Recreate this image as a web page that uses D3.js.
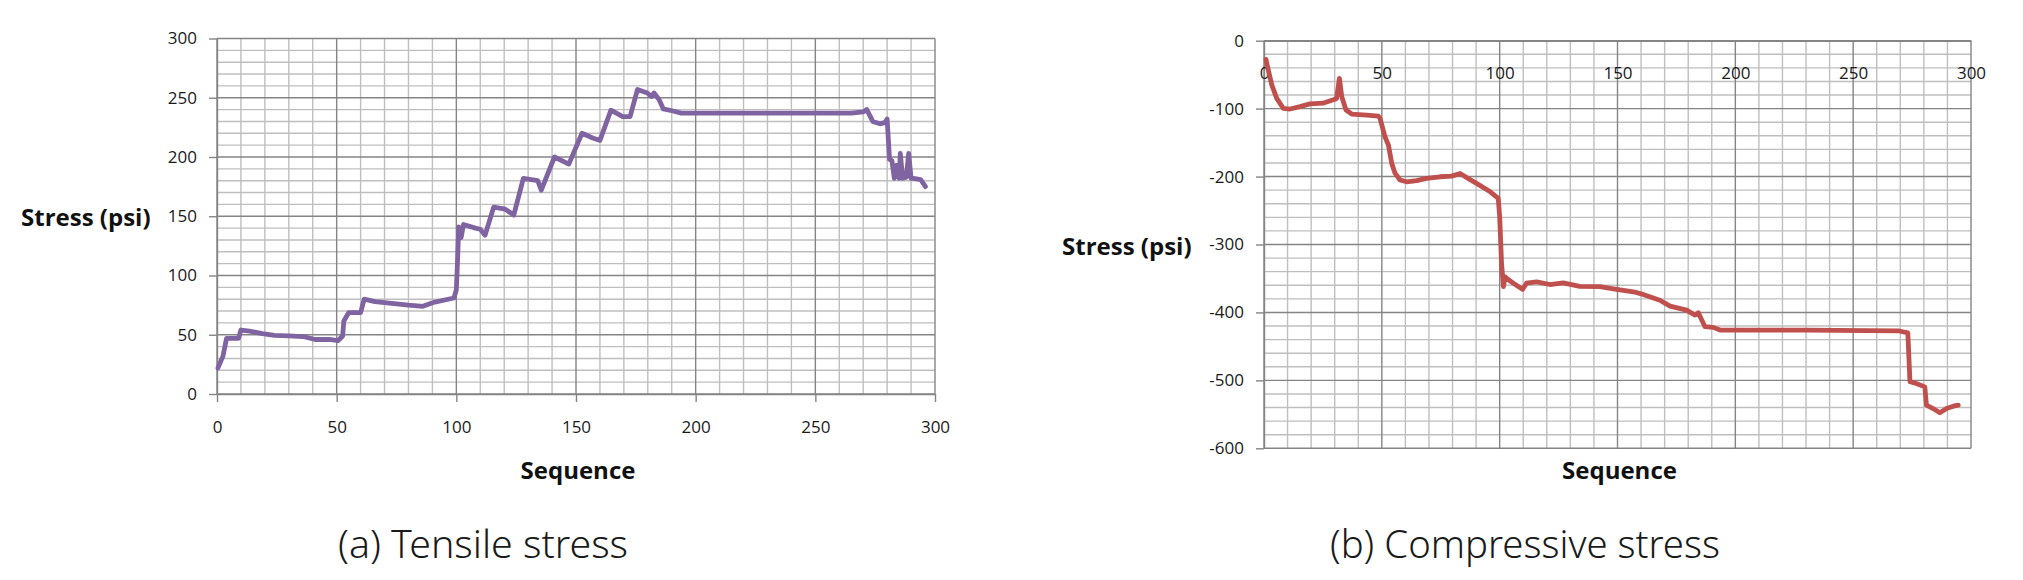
<!DOCTYPE html>
<html lang="en">
<head>
  <meta charset="UTF-8">
  <title>Tensile / compressive stress</title>
  <style>
    html, body { margin: 0; padding: 0; background: #fff; }
    svg { display: block; }
  </style>
</head>
<body>
  <svg id="svg" width="2023" height="580"></svg>

  <script src="https://d3js.org/d3.v7.min.js"></script>
  <script>
    // (a) tensile stress
    var tensileSeq = [0.4, 2.5, 4, 9, 10, 13.6, 19, 24, 30, 36, 41, 47, 50.5, 52.5, 53, 55, 60, 61.5, 66, 73,
      80, 86, 91, 99, 100, 100.5, 101, 102, 103, 108, 110, 112, 115.6, 120.4, 124, 128, 134, 135.5, 141, 147,
      152.5, 157, 160, 164.6, 169.5, 172.6, 175.7, 179.8, 181.5, 182.6, 184.7, 186.5, 191, 194, 230, 265,
      270, 271.5, 274, 277, 279, 280, 281, 282, 283, 284, 285, 285.5, 286.5, 288, 289, 290, 291, 294, 296];
    var tensileStress = [22, 32, 47, 47, 54, 53, 51, 49.5, 49, 48.5, 46, 46, 45, 49, 61.6, 68.6, 68.6, 80, 78, 76.5,
      75, 74, 77.6, 81, 88, 112, 141, 132, 143, 140, 139, 134, 157.7, 156, 151, 182, 180, 172, 200, 194,
      220, 216, 214, 239.5, 234, 234, 257, 254, 251, 254, 248.6, 240.6, 238.6, 237, 237, 237,
      238, 240, 230, 228, 229, 232, 198, 197, 182, 193, 182, 203, 182, 183, 203, 182, 182, 181, 175];

    // (b) compressive stress
    var compSeq = [0.85, 1.8, 3.3, 5.4, 8.2, 11, 15.3, 19.5, 25, 29.4, 30.8, 32, 33, 34.8, 37.2, 43.6, 48.5, 49.2,
      51.3, 52.8, 54.2, 55.6, 57.7, 60.5, 64.8, 69, 74.7, 79.6, 83.2, 85.3, 90.2, 96, 99.4, 100, 100.8, 101.6,
      102.3, 103, 105.8, 109.7, 111.4, 115.7, 121.3, 127, 134, 142.5, 149.6, 156.7, 160.9, 168, 172.3, 179.3,
      182.9, 184.3, 187.1, 190.6, 193.5, 230, 269.1, 273.2, 274.1, 276.8, 280.4, 281.1, 283.9, 286.8, 289.6,
      292.5, 294.6];
    var compStress = [-27.5, -43, -65, -85, -99.7, -100.6, -97, -93, -92, -87, -85, -55.5, -82.5, -102, -108, -109.5, -111, -114,
      -141, -153.6, -180.6, -195, -205, -207.7, -206, -202.7, -200.3, -199.3, -195.4, -200, -210, -222.4, -232.2, -259, -328, -362,
      -347.5, -350, -357, -366, -357, -355, -358.9, -356.5, -361.5, -362, -366, -369.6, -373.5, -382, -390.7, -396.6,
      -404, -400.6, -421, -422, -426, -426, -427, -430, -502, -504.6, -509.6, -536.5, -541.5, -547.8, -541.5,
      -538, -536.5];

    var xTicks = [0, 50, 100, 150, 200, 250, 300];
    var tensileTicks = [0, 50, 100, 150, 200, 250, 300];
    var compTicks = [0, -100, -200, -300, -400, -500, -600];

    var svg = d3.select("#svg");
    var tickFont = "'Open Sans', 'DejaVu Sans', sans-serif";
    var minorColor = "#bfbfbf", majorColor = "#858585";

    function panel(opt) {
      var g = svg.append("g");
      var x = d3.scaleLinear().domain([0, 300]).range([opt.left, opt.right]);
      var y = d3.scaleLinear().domain(opt.yDomain).range([opt.top, opt.bottom]);
      var ymin = d3.min(opt.yDomain), ymax = d3.max(opt.yDomain);

      // minor grid
      g.append("g").selectAll("line")
        .data(d3.range(ymin, ymax + 1, opt.yMinor).filter(function (v) { return v % opt.yMajor !== 0; }))
        .enter().append("line")
        .attr("x1", x(0)).attr("x2", x(300))
        .attr("y1", y).attr("y2", y)
        .attr("stroke", minorColor).attr("stroke-width", 1.4);
      g.append("g").selectAll("line")
        .data(d3.range(0, 301, 10).filter(function (v) { return v % 50 !== 0; }))
        .enter().append("line")
        .attr("x1", x).attr("x2", x)
        .attr("y1", y(ymin)).attr("y2", y(ymax))
        .attr("stroke", minorColor).attr("stroke-width", 1.4);

      // major grid
      g.append("g").selectAll("line")
        .data(opt.yTicks)
        .enter().append("line")
        .attr("x1", x(0)).attr("x2", x(300))
        .attr("y1", y).attr("y2", y)
        .attr("stroke", majorColor).attr("stroke-width", 1.4);
      g.append("g").selectAll("line")
        .data(xTicks)
        .enter().append("line")
        .attr("x1", x).attr("x2", x)
        .attr("y1", y(ymin)).attr("y2", y(ymax))
        .attr("stroke", majorColor).attr("stroke-width", 1.4);

      // axes
      var yAxis = g.append("g")
        .attr("transform", "translate(" + x(0) + ",0)")
        .call(d3.axisLeft(y).tickValues(opt.yTicks).tickSize(8).tickSizeOuter(0).tickPadding(12)
          .tickFormat(function (d) { return String(d); }));
      var xAxis = g.append("g")
        .attr("transform", "translate(0," + y(0) + ")")
        .call(d3.axisBottom(x).tickValues(xTicks).tickSize(opt.xTickSize).tickSizeOuter(0).tickPadding(opt.xPad)
          .tickFormat(function (d) { return String(d); }));
      [yAxis, xAxis].forEach(function (a) {
        a.attr("font-family", tickFont).attr("font-size", 17);
        a.selectAll("path, line").attr("stroke", majorColor).attr("stroke-width", 1.4);
        a.selectAll("text").attr("fill", "#1a1a1a");
      });

      // data line
      var pts = opt.seq.map(function (s, i) { return [s, opt.vals[i]]; });
      g.append("path")
        .datum(pts)
        .attr("fill", "none")
        .attr("stroke", opt.color)
        .attr("stroke-width", 4.8)
        .attr("stroke-linejoin", "round")
        .attr("stroke-linecap", "round")
        .attr("d", d3.line().x(function (d) { return x(d[0]); }).y(function (d) { return y(d[1]); }));

      // titles
      g.append("text")
        .attr("x", opt.yLabelX).attr("y", opt.yLabelY)
        .attr("font-family", "'Open Sans', sans-serif").attr("font-weight", "bold").attr("font-size", 24)
        .attr("fill", "#111")
        .text("Stress (psi)");
      g.append("text")
        .attr("x", (x(0) + x(300)) / 2 + 2).attr("y", 479)
        .attr("text-anchor", "middle")
        .attr("font-family", "'Open Sans', sans-serif").attr("font-weight", "bold").attr("font-size", 24)
        .attr("fill", "#111")
        .text("Sequence");
      g.append("text")
        .attr("x", opt.capX).attr("y", 558)
        .attr("text-anchor", "middle")
        .attr("font-family", "'Noto Sans', sans-serif").attr("font-weight", 300).attr("font-size", 38)
        .attr("textLength", opt.capW).attr("lengthAdjust", "spacingAndGlyphs")
        .attr("fill", "#1a1a1a")
        .text(opt.caption);
    }

    panel({
      left: 217, right: 935, top: 38.5, bottom: 394,
      yDomain: [300, 0], yTicks: tensileTicks, yMinor: 10, yMajor: 50,
      xTickSize: 8, xPad: 19,
      seq: tensileSeq, vals: tensileStress, color: "#8064a2",
      yLabelX: 21, yLabelY: 226,
      caption: "(a) Tensile stress", capX: 483, capW: 290
    });

    panel({
      left: 1264, right: 1971, top: 40.7, bottom: 448.3,
      yDomain: [0, -600], yTicks: compTicks, yMinor: 20, yMajor: 100,
      xTickSize: 0, xPad: 26,
      seq: compSeq, vals: compStress, color: "#c0504d",
      yLabelX: 1062, yLabelY: 255,
      caption: "(b) Compressive stress", capX: 1525, capW: 390
    });
  </script>
</body>
</html>
